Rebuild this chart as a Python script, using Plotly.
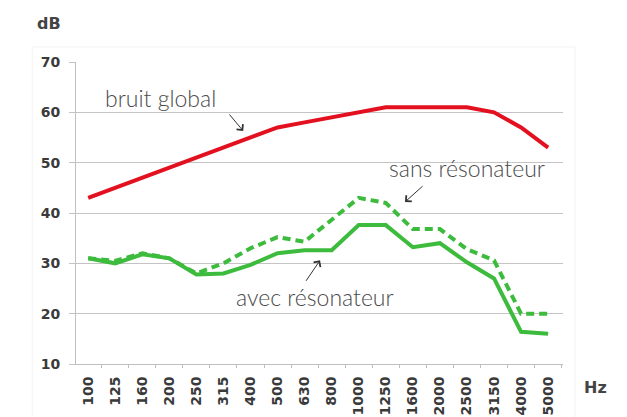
import plotly.graph_objects as go

freqs = ["100", "125", "160", "200", "250", "315", "400", "500", "630", "800",
         "1000", "1250", "1600", "2000", "2500", "3150", "4000", "5000"]
bruit_global = [43, 45, 47, 49, 51, 53, 55, 57, 58, 59, 60, 61, 61, 61, 61, 60, 57, 53]
sans_resonateur = [31, 30.5, 32, 31, 28, 30, 33, 35.2, 34.3, 38.6, 43, 42, 36.8, 36.8, 32.8, 30.6, 20, 20]
avec_resonateur = [31, 30, 31.8, 31, 27.8, 28, 29.7, 32, 32.6, 32.6, 37.6, 37.6, 33.2, 34, 30.2, 27, 16.4, 16]
y_ticks = [10, 20, 30, 40, 50, 60, 70]

RED = "#e3101f"
GREEN = "#3dbb3d"
TXT = "#4a4a4a"
ANNF = "Lato"
TICKF = dict(family="DejaVu Sans", size=14, color="#3a3a3a", weight="bold")

fig = go.Figure()
fig.add_trace(go.Scatter(x=freqs, y=bruit_global, mode="lines",
                         line=dict(color=RED, width=4), name="bruit global"))
fig.add_trace(go.Scatter(x=freqs, y=sans_resonateur, mode="lines",
                         line=dict(color=GREEN, width=4, dash="8px,5px"), name="sans résonateur"))
fig.add_trace(go.Scatter(x=freqs, y=avec_resonateur, mode="lines",
                         line=dict(color=GREEN, width=4), name="avec résonateur"))

# page body has an 8px margin: figure is shrunk and shifted to compensate
fig.update_layout(
    width=619, height=409,
    margin=dict(l=68, r=64, t=54, b=53, autoexpand=False),
    paper_bgcolor="white", plot_bgcolor="white",
    showlegend=False,
    xaxis=dict(type="category", range=[-0.45, 17.55], tickangle=-90, automargin=False,
               tickfont=TICKF, ticklabelstandoff=6,
               showgrid=False, showline=True, linecolor="#bfbfbf", linewidth=1,
               ticks="outside", ticklen=3, tickcolor="#bfbfbf", tickson="boundaries",
               zeroline=False),
    yaxis=dict(range=[10, 70], tickvals=y_ticks, automargin=False,
               tickfont=TICKF, ticklabelstandoff=6,
               showgrid=True, gridcolor="#c4c4c4", gridwidth=1,
               showline=True, linecolor="#bfbfbf", linewidth=1,
               ticks="outside", ticklen=6, tickcolor="#c4c4c4", zeroline=False),
)

fig.add_shape(type="rect", xref="paper", yref="paper",
              x0=-0.09, x1=1.025, y0=-0.2, y1=1.05,
              line=dict(color="#f3f3f3", width=1), layer="below")

def label(text, x, y):
    fig.add_annotation(text=text, x=x, y=y, xref="x", yref="y", showarrow=False,
                       font=dict(family=ANNF, size=23, color=TXT, weight=300))

def arrow(x, y, ax, ay):
    fig.add_annotation(text="", x=x, y=y, xref="x", yref="y", ax=ax, ay=ay,
                       showarrow=True, arrowhead=4, arrowsize=1.6, arrowwidth=1,
                       arrowcolor="#333333")

label("bruit global", 2.66, 62.8)
arrow(5.73, 56.3, -15, -18)
label("sans résonateur", 14.0, 48.9)
arrow(11.71, 42.2, 19, -17)
label("avec résonateur", 8.39, 23.3)
arrow(8.57, 30.6, -15, 22)

fig.add_annotation(text="<b>dB</b>", xref="paper", yref="paper", x=-0.084, y=1.129,
                   xanchor="left", yanchor="middle", showarrow=False,
                   font=dict(family="DejaVu Sans", size=16, color="#444444"))
fig.add_annotation(text="<b>Hz</b>", xref="paper", yref="paper", x=1.039, y=-0.079,
                   xanchor="left", yanchor="middle", showarrow=False,
                   font=dict(family="DejaVu Sans", size=16, color="#444444"))

fig.write_html("out.html")
